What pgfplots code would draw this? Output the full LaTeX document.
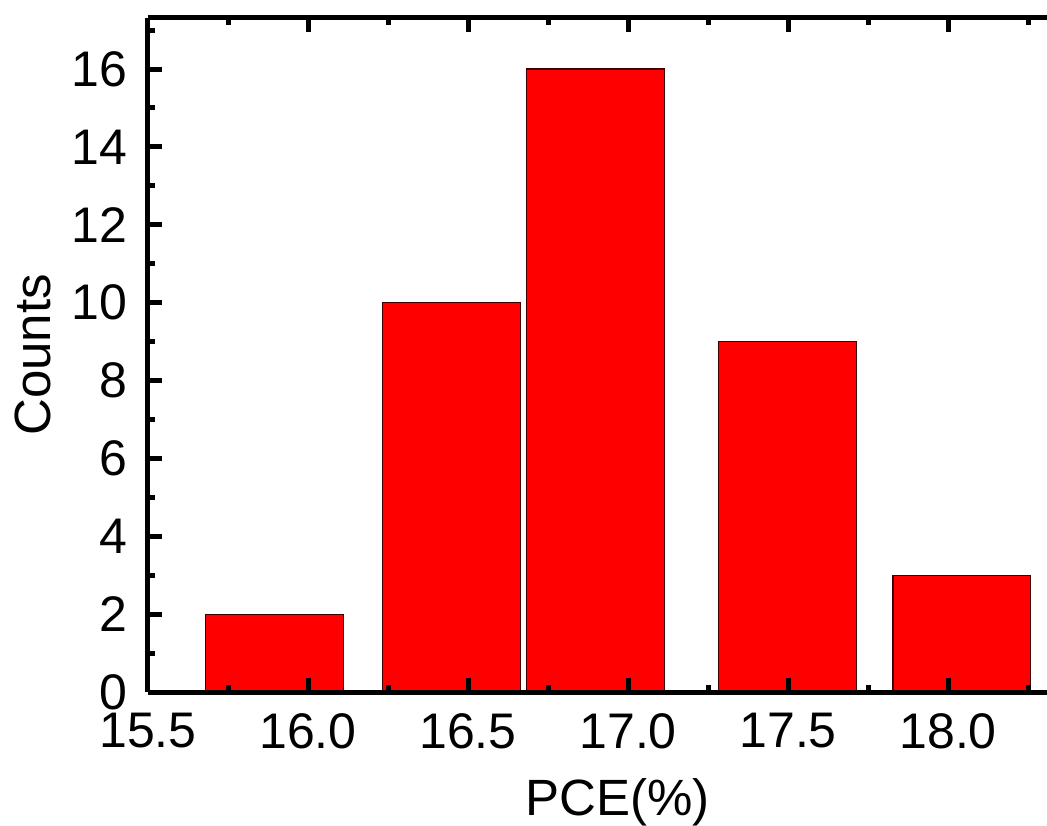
\documentclass[border=0pt]{standalone}
\usepackage{pgfplots}
\pgfplotsset{compat=1.18}
\usepackage{fontspec}
\setmainfont{Liberation Sans}
\begin{document}
\begin{tikzpicture}
\begin{axis}[
    name=ax, at={(0,0)}, anchor=south west,
    width=449.5pt, height=337pt, scale only axis,
    xmin=15.5, xmax=18.309, ymin=0, ymax=17.31,
    axis x line*=box, axis y line*=left,
    axis line style={line width=2.5pt},
    axis on top,
    xtick={15.5,16,16.5,17,17.5,18},
    minor xtick={15.75,16.25,16.75,17.25,17.75,18.25},
    ytick={0,2,...,16},
    minor ytick={1,3,...,17},
    tick align=inside,
    tick style={line width=2.5pt, black},
    major tick length=7pt, minor tick length=3.75pt,
    /pgf/number format/assume math mode=true,
    x tick label style={/pgf/number format/fixed, /pgf/number format/fixed zerofill, /pgf/number format/precision=1},
    tick label style={font=\fontsize{25}{25}\selectfont, inner sep=0pt},
    xticklabel style={anchor=north, yshift=-10.5pt},
    yticklabel style={anchor=east, xshift=-10pt},
    label style={font=\fontsize{25.5}{25.5}\selectfont},
    xlabel={PCE(\%)},
    ylabel={Counts},
    xlabel style={at={(axis description cs:0.522,-0.1825)}, anchor=base, inner sep=0pt},
    ylabel style={at={(axis description cs:-0.109,0.5)}, anchor=base, inner sep=0pt},
]
\addplot[ybar, bar width=0.431, fill=red, draw=black!75!red, line width=0.6pt]
    coordinates {(15.896,2) (16.449,10) (16.898,16) (17.499,9) (18.043,3)};
\end{axis}
\pgfresetboundingbox
\path[use as bounding box] (-74pt,-66.5pt) rectangle (449.5pt,346pt);
\end{tikzpicture}
\end{document}
